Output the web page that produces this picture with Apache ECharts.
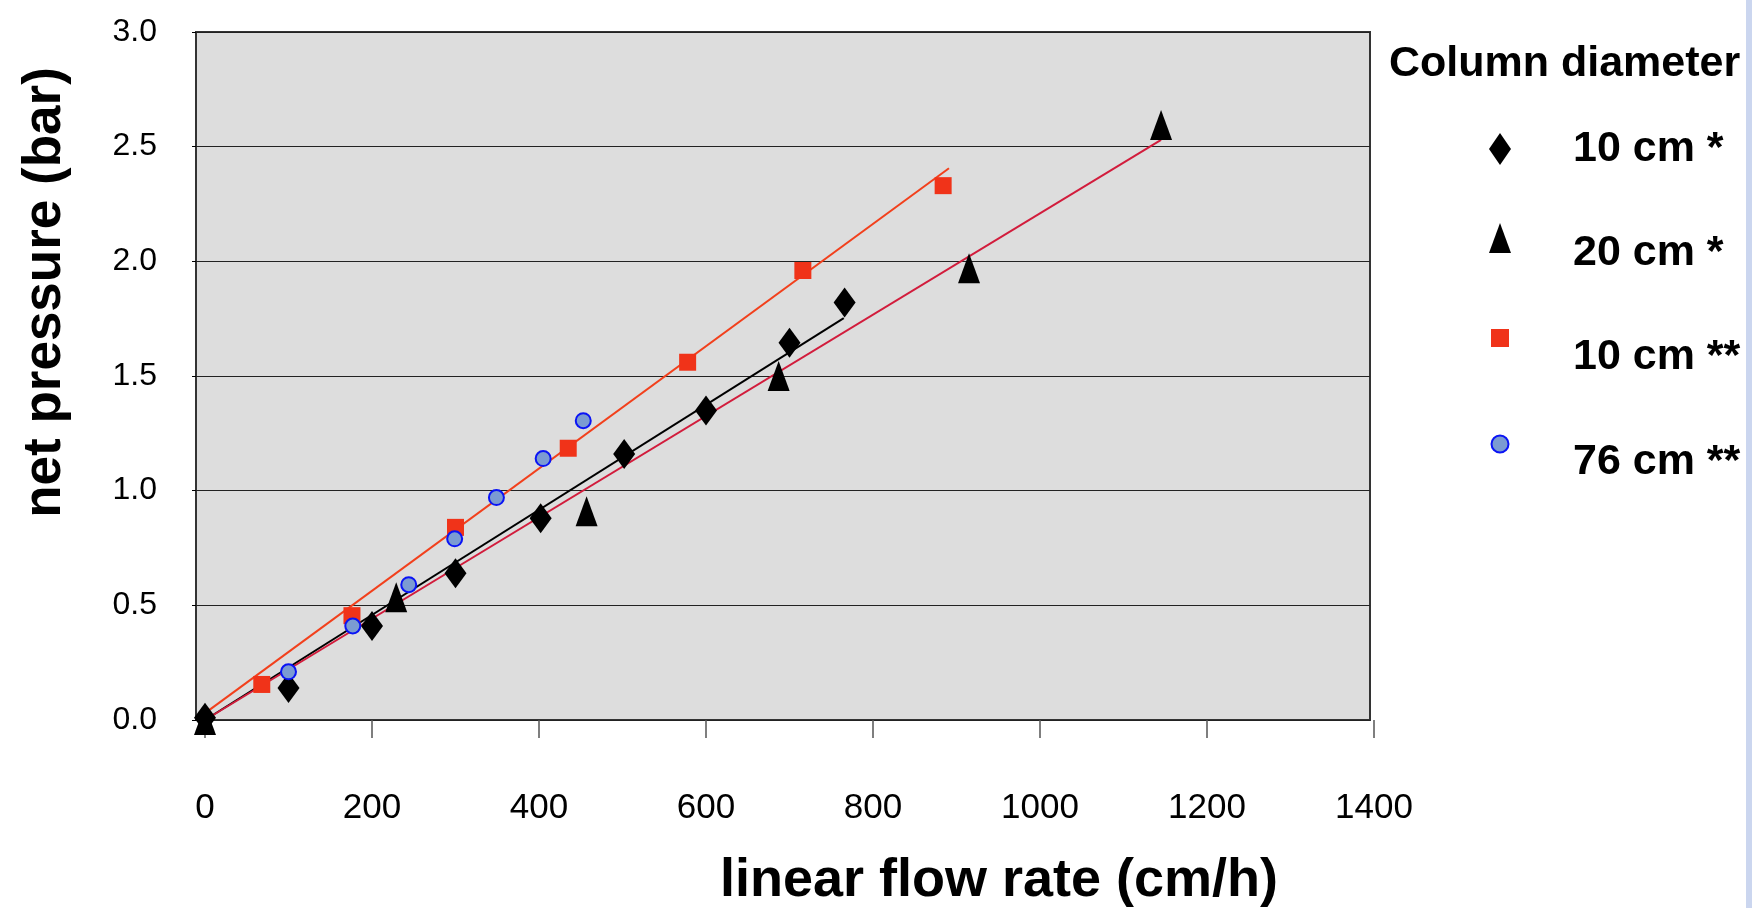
<!DOCTYPE html>
<html>
<head>
<meta charset="utf-8">
<script src="https://cdn.jsdelivr.net/npm/echarts@6/dist/echarts.min.js"></script>
<style>
html,body{margin:0;padding:0;background:#ffffff;}
#chart{width:1757px;height:908px;}
</style>
</head>
<body>
<div id="chart"></div>
<script>
// ---- data ----
const seriesNames = ['10 cm *', '20 cm *', '10 cm **', '76 cm **'];
const legendTitle = 'Column diameter';
const xAxisTitle = 'linear flow rate (cm/h)';
const yAxisTitle = 'net pressure (bar)';
const xTickValues = [0, 200, 400, 600, 800, 1000, 1200, 1400];
const yTickValues = [0, 0.5, 1.0, 1.5, 2.0, 2.5, 3.0];

// [flow rate cm/h, net pressure bar]
const col10a = [[0, 0.01], [100, 0.14], [200, 0.41], [300, 0.64], [402, 0.88], [502, 1.16], [600, 1.35], [700, 1.645], [766, 1.82]];
const col20a = [[0, 0.0], [229, 0.535], [457, 0.91], [687, 1.50], [915, 1.97], [1145, 2.595]];
const col10b = [[68, 0.155], [176, 0.455], [300, 0.84], [435, 1.185], [578, 1.56], [716, 1.96], [884, 2.33]];
const col76b = [[-4, -0.02], [100, 0.21], [177, 0.41], [244, 0.59], [299, 0.79], [349, 0.97], [405, 1.14], [453, 1.305]];

// linear trend lines (end points)
const trend10a = [[0, 0.0], [765, 1.752]];
const trend20a = [[0, 0.0], [1145, 2.53]];
const trend10b = [[0, 0.03], [891, 2.406]];

// ---- chart ----
const FONT = '"Liberation Sans", Arial, Helvetica, sans-serif';
const chart = echarts.init(document.getElementById('chart'), null, {renderer: 'canvas'});

// legend icons: 30x60 boxes, marker drawn slightly above the text line as in the reference
const iconDiamond = 'path://M0,0M30,60M15,14L26,30L15,46L4,30Z';
const iconTriangle = 'path://M0,0M30,60M15,0L26,30L4,30Z';
const iconSquare = 'path://M0,0M30,60M6,2L24,2L24,20L6,20Z';
const iconCircle = 'path://M0,0M30,60M23.5,12A8.5,8.5,0,1,1,6.5,12A8.5,8.5,0,1,1,23.5,12Z';

const option = {
  animation: false,
  backgroundColor: '#ffffff',
  title: {
    text: legendTitle,
    left: 1389,
    top: 42,
    padding: 0,
    textStyle: {fontFamily: FONT, fontSize: 43, fontWeight: 'bold', color: '#000', lineHeight: 44}
  },
  legend: {
    orient: 'vertical',
    left: 1479,
    top: 114,
    itemWidth: 136,
    itemHeight: 60,
    itemGap: 44,
    selectedMode: false,
    textStyle: {fontFamily: FONT, fontSize: 43, fontWeight: 'bold', color: '#000', lineHeight: 44},
    data: [
      {name: seriesNames[0], icon: iconDiamond},
      {name: seriesNames[1], icon: iconTriangle},
      {name: seriesNames[2], icon: iconSquare},
      {name: seriesNames[3], icon: iconCircle}
    ]
  },
  graphic: [
    {type: 'rect', left: 1746, top: 0, z: 0, shape: {width: 6, height: 908}, style: {fill: '#cbd6ef'}, silent: true}
  ],
  grid: [
    {left: 196, top: 32, width: 1174, height: 688, outerBoundsMode: 'none', containLabel: false,
      show: true, backgroundColor: '#dddddd', borderColor: '#333333', borderWidth: 2},
    {left: 205, top: 32, width: 1169, height: 688, outerBoundsMode: 'none', containLabel: false, show: false}
  ],
  xAxis: [
    {gridIndex: 0, type: 'value', min: 0, max: 1, show: false},
    {
      gridIndex: 1, type: 'value', min: xTickValues[0], max: xTickValues[xTickValues.length - 1], interval: 200,
      axisLine: {show: false},
      axisTick: {show: true, length: 18, lineStyle: {color: '#555555', width: 1.5}},
      axisLabel: {fontFamily: FONT, fontSize: 35, color: '#000', margin: 71,
        formatter: function (v) { return String(v); }},
      splitLine: {show: false},
      name: xAxisTitle, nameLocation: 'middle', nameGap: 134,
      nameTextStyle: {fontFamily: FONT, fontSize: 54, fontWeight: 'bold', color: '#000', padding: [0, 0, 0, 419]}
    }
  ],
  yAxis: [
    {
      gridIndex: 0, type: 'value', min: yTickValues[0], max: yTickValues[yTickValues.length - 1], interval: 0.5,
      axisLine: {show: false},
      axisTick: {show: true, length: 4, lineStyle: {color: '#000', width: 1}},
      axisLabel: {fontFamily: FONT, fontSize: 32, color: '#000', margin: 39, padding: [0, 0, 17, 0],
        formatter: function (v) { return v.toFixed(1); }},
      splitLine: {show: true, lineStyle: {color: '#222222', width: 1.2}},
      name: yAxisTitle, nameLocation: 'middle', nameGap: 124, nameRotate: 90,
      nameTextStyle: {fontFamily: FONT, fontSize: 53, fontWeight: 'bold', color: '#000', padding: [0, 0, 0, 167]}
    },
    {gridIndex: 1, type: 'value', min: 0, max: 3, show: false}
  ],
  series: [
    {name: 'trend ' + seriesNames[0], type: 'line', xAxisIndex: 1, yAxisIndex: 1, data: trend10a, symbol: 'none', z: 2,
      lineStyle: {color: '#000000', width: 2}, silent: true},
    {name: 'trend ' + seriesNames[1], type: 'line', xAxisIndex: 1, yAxisIndex: 1, data: trend20a, symbol: 'none', z: 2,
      lineStyle: {color: '#d21c3c', width: 2}, silent: true},
    {name: 'trend ' + seriesNames[2], type: 'line', xAxisIndex: 1, yAxisIndex: 1, data: trend10b, symbol: 'none', z: 2,
      lineStyle: {color: '#f2401c', width: 2}, silent: true},
    {name: seriesNames[0], type: 'scatter', xAxisIndex: 1, yAxisIndex: 1, data: col10a, z: 3,
      symbol: 'diamond', symbolSize: [22, 30], itemStyle: {color: '#000000', opacity: 1}},
    {name: seriesNames[1], type: 'scatter', xAxisIndex: 1, yAxisIndex: 1, data: col20a, z: 3,
      symbol: 'triangle', symbolSize: [22, 30], itemStyle: {color: '#000000', opacity: 1}},
    {name: seriesNames[2], type: 'scatter', xAxisIndex: 1, yAxisIndex: 1, data: col10b, z: 3,
      symbol: 'rect', symbolSize: 17, itemStyle: {color: '#f03319', opacity: 1}},
    {name: seriesNames[3], type: 'scatter', xAxisIndex: 1, yAxisIndex: 1, data: col76b, z: 4,
      symbol: 'circle', symbolSize: 15, itemStyle: {color: '#7b9bd2', borderColor: '#0a14f5', borderWidth: 2, opacity: 1}}
  ]
};
chart.setOption(option);
</script>
</body>
</html>
